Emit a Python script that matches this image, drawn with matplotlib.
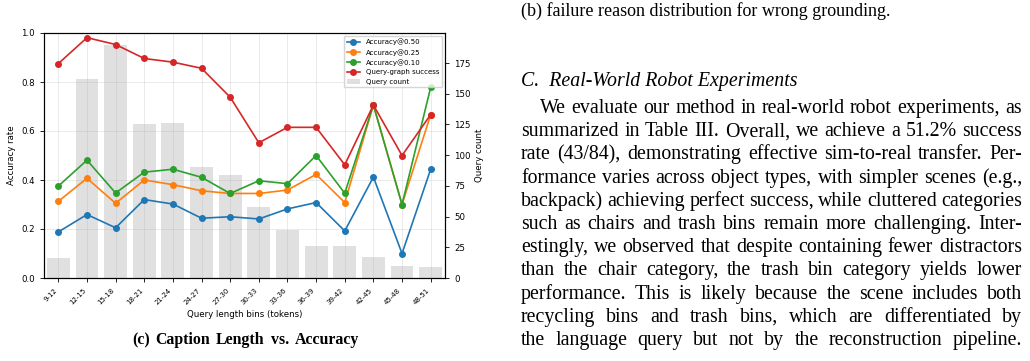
import matplotlib
matplotlib.use('Agg')
import matplotlib.pyplot as plt
from matplotlib.font_manager import FontProperties
import numpy as np

# ---------------- data ----------------
bins = ['9-12', '12-15', '15-18', '18-21', '21-24', '24-27', '27-30',
        '30-33', '33-36', '36-39', '39-42', '42-45', '45-48', '48-51']
query_count = [16, 162, 190, 125, 126, 90, 84, 58, 39, 26, 26, 17, 10, 9]
acc_050 = [0.188, 0.259, 0.205, 0.320, 0.302, 0.244, 0.250, 0.241, 0.282, 0.308, 0.192, 0.412, 0.100, 0.444]
acc_025 = [0.313, 0.407, 0.305, 0.400, 0.381, 0.356, 0.345, 0.345, 0.359, 0.423, 0.308, 0.706, 0.300, 0.667]
acc_010 = [0.375, 0.481, 0.347, 0.432, 0.444, 0.411, 0.345, 0.397, 0.385, 0.500, 0.346, 0.706, 0.300, 0.778]
qg_success = [0.875, 0.981, 0.953, 0.896, 0.881, 0.856, 0.738, 0.552, 0.615, 0.615, 0.462, 0.706, 0.500, 0.667]
right_ticks = [0, 25, 50, 75, 100, 125, 150, 175]

series_labels = ['Accuracy@0.50', 'Accuracy@0.25', 'Accuracy@0.10', 'Query-graph success']
series_colors = ['tab:blue', 'tab:orange', 'tab:green', 'tab:red']

caption = "(c) Caption Length vs. Accuracy"
prev_caption = "(b) failure reason distribution for wrong grounding."
heading = "C.  Real-World Robot Experiments"
para_lines = [
    "We evaluate our method in real-world robot experiments, as",
    "summarized in Table III. Overall, we achieve a 51.2% success",
    "rate (43/84), demonstrating effective sim-to-real transfer. Per-",
    "formance varies across object types, with simpler scenes (e.g.,",
    "backpack) achieving perfect success, while cluttered categories",
    "such as chairs and trash bins remain more challenging. Inter-",
    "estingly, we observed that despite containing fewer distractors",
    "than the chair category, the trash bin category yields lower",
    "performance. This is likely because the scene includes both",
    "recycling bins and trash bins, which are differentiated by",
    "the language query but not by the reconstruction pipeline.",
]

W, H = 1030, 361
fig = plt.figure(figsize=(W / 100, H / 100), dpi=100)

# ---------------- chart ----------------
ax = fig.add_axes([44 / W, 1 - 278 / H, 401 / W, 245 / H])
ax2 = ax.twinx()
x = np.arange(len(bins))
ax2.bar(x, query_count, width=0.8, color='lightgray', alpha=0.7, label='Query count')
ax2.set_ylim(0, max(query_count) * 1.05)
ax2.set_yticks(right_ticks)
ax2.set_ylabel('Query count', fontsize=6.2, labelpad=3)
ax2.tick_params(axis='y', labelsize=6.2, length=3, width=0.6)

ax.set_zorder(ax2.get_zorder() + 1)
ax.patch.set_visible(False)
for vals, lab, col in zip([acc_050, acc_025, acc_010, qg_success], series_labels, series_colors):
    ax.plot(x, vals, marker='o', markersize=4, linewidth=1.2, color=col, label=lab)

ax.set_xlim(-0.5, len(bins) - 0.5)
ax.set_ylim(0, 1.0)
ax.set_yticks([0, 0.2, 0.4, 0.6, 0.8, 1.0])
ax.set_xticks(x)
ax.set_xticklabels(bins, rotation=45, ha='right', fontsize=5)
ax.tick_params(axis='y', labelsize=6.2, length=3, width=0.6)
ax.tick_params(axis='x', length=3, width=0.6)
ax.set_ylabel('Accuracy rate', fontsize=6.2)
ax.set_xlabel('Query length bins (tokens)', fontsize=6.2, labelpad=3)
ax.grid(True, alpha=0.3, linewidth=0.6)

h1, l1 = ax.get_legend_handles_labels()
h2, l2 = ax2.get_legend_handles_labels()
ax.legend(h1 + h2, l1 + l2, loc='upper right', fontsize=5, framealpha=0.8,
          borderaxespad=0.4)

# ---------------- text ----------------
renderer = fig.canvas.get_renderer()
serif = ['Liberation Serif', 'DejaVu Serif']
fp_body = FontProperties(family=serif, size=14.3)
fp_cap = FontProperties(family=serif, size=13.0)
fp_ital = FontProperties(family=serif, size=14.3, style='italic')
fp_bold = FontProperties(family=serif, size=11.4, weight='bold')


def place_line(text, x0, x1, base, fp, justify=True):
    words = text.split(' ')
    widths = [renderer.get_text_width_height_descent(w, fp, ismath=False)[0] for w in words]
    if justify and len(words) > 1:
        gap = (x1 - x0 - sum(widths)) / (len(words) - 1)
        xx = x0
        for w, wd in zip(words, widths):
            fig.text(xx / W, 1 - base / H, w, fontproperties=fp, ha='left', va='baseline', color='black')
            xx += wd + gap
    else:
        fig.text(x0 / W, 1 - base / H, text, fontproperties=fp, ha='left', va='baseline', color='black')


place_line(caption, 132, 359, 344, fp_bold, justify=True)
place_line(prev_caption, 521, 1022, 15.5, fp_cap, justify=False)
place_line(heading, 521, 1022, 86, fp_ital, justify=False)
for i, line in enumerate(para_lines):
    x0 = 540 if i == 0 else 521
    place_line(line, x0, 1022, 113 + 23.2 * i, fp_body, justify=True)

fig.savefig('out.png', dpi=100)
